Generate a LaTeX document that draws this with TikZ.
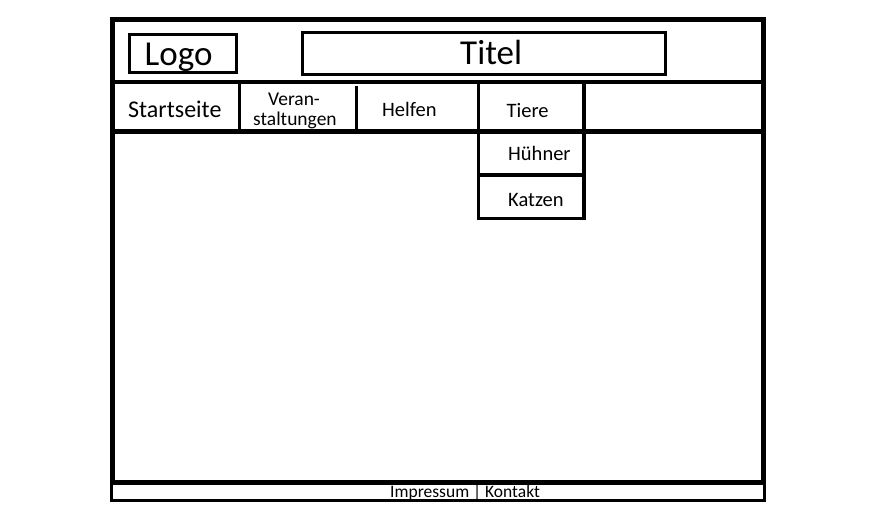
\documentclass[tikz,border=0pt]{standalone}
\usepackage{fontspec}
\setmainfont{Carlito}
\begin{document}
\begin{tikzpicture}[x=1pt,y=-1pt,
  frame/.style={draw=black,line width=5pt},
  box/.style={draw=black,line width=3pt,inner sep=0pt,rectangle},
  divider/.style={draw=black,line width=3pt},
  lbl/.style={anchor=base west,inner sep=0pt,text=black},
]
\useasboundingbox[fill=white] (0,0) rectangle (890,506);
% outer frame
\draw[frame] (112.5,19.5) rectangle (763,482);
% header separator and nav bottom
\draw[black,line width=4pt] (112.5,82) -- (765,82);
\draw[black,line width=5pt] (112.5,131) -- (763,131);
% logo and title boxes
\node[box,minimum width=107pt,minimum height=38pt] (logo) at (183,53.5) {};
\node[box,minimum width=363pt,minimum height=41.5pt] (titel) at (483.5,53.25) {};
% nav dividers
\draw[divider] (239.5,82) -- (239.5,131);
\draw[divider] (356.5,86) -- (356.5,131);
% dropdown (Tiere column)
\draw[black,line width=3.5pt] (478.5,82) -- (478.5,218.5) -- (584,218.5) -- (584,82);
\draw[black,line width=3.5pt] (478.5,175) -- (584,175);
% footer
\draw[black,line width=3pt] (111.5,483) rectangle (764,500);
% texts
\node[lbl,font=\fontsize{35}{35}\selectfont] (tlogo) at (144.5,65.5) {Logo};
\node[lbl,font=\fontsize{35}{35}\selectfont] (ttitel) at (460,64.5) {Titel};
\node[lbl,font=\fontsize{24}{24}\selectfont] (tstart) at (128,117) {Startseite};
\node[lbl,font=\fontsize{19.5}{19.5}\selectfont] (tveran) at (268,105) {Veran-};
\node[lbl,font=\fontsize{19.5}{19.5}\selectfont] (tstalt) at (253,125) {staltungen};
\node[lbl,font=\fontsize{20.5}{20.5}\selectfont] (thelfen) at (382,116) {Helfen};
\node[lbl,font=\fontsize{20.5}{20.5}\selectfont] (ttiere) at (506.5,117) {Tiere};
\node[lbl,font=\fontsize{20.5}{20.5}\selectfont] (thuehner) at (508,160) {Hühner};
\node[lbl,font=\fontsize{20.5}{20.5}\selectfont] (tkatzen) at (508,206) {Katzen};
\node[lbl,font=\fontsize{17.5}{17.5}\selectfont] (tfooter) at (390,497) {Impressum | Kontakt};
\end{tikzpicture}
\end{document}
